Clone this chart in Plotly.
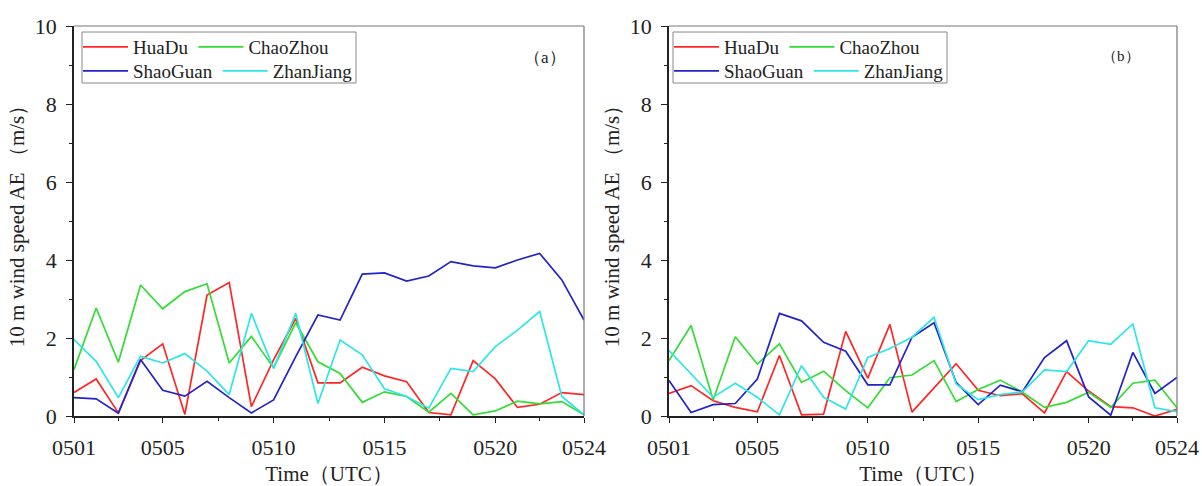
import plotly.graph_objects as go

dates = ["0501", "0502", "0503", "0504", "0505", "0506", "0507", "0508", "0509", "0510",
         "0511", "0512", "0513", "0514", "0515", "0516", "0517", "0518", "0519", "0520",
         "0521", "0522", "0523", "0524"]
tick_labels = ["0501", "0505", "0510", "0515", "0520", "0524"]
stations = ["HuaDu", "ChaoZhou", "ShaoGuan", "ZhanJiang"]

# Panel (a)
a_huadu = [0.60, 0.95, 0.08, 1.42, 1.85, 0.04, 3.10, 3.42, 0.24, 1.44, 2.50, 0.85,
           0.85, 1.25, 1.03, 0.88, 0.09, 0.03, 1.42, 0.95, 0.22, 0.30, 0.60, 0.55]
a_chaozhou = [1.19, 2.77, 1.38, 3.36, 2.75, 3.19, 3.39, 1.36, 2.04, 1.24, 2.39, 1.39,
              1.09, 0.35, 0.62, 0.50, 0.10, 0.58, 0.03, 0.13, 0.38, 0.31, 0.37, 0.03]
a_shaoguan = [0.47, 0.44, 0.07, 1.45, 0.66, 0.51, 0.89, 0.47, 0.08, 0.41, 1.52, 2.59,
              2.46, 3.64, 3.67, 3.46, 3.59, 3.96, 3.85, 3.80, 4.00, 4.17, 3.49, 2.46]
a_zhanjiang = [1.96, 1.40, 0.47, 1.53, 1.36, 1.60, 1.15, 0.55, 2.63, 1.22, 2.63, 0.32,
               1.95, 1.57, 0.70, 0.50, 0.20, 1.22, 1.14, 1.78, 2.20, 2.68, 0.50, 0.03]

# Panel (b)
b_huadu = [0.58, 0.78, 0.39, 0.22, 0.11, 1.55, 0.03, 0.05, 2.17, 0.97, 2.35, 0.10,
           0.72, 1.34, 0.66, 0.52, 0.57, 0.08, 1.14, 0.64, 0.24, 0.21, 0.00, 0.17]
b_chaozhou = [1.42, 2.32, 0.41, 2.03, 1.33, 1.85, 0.86, 1.15, 0.65, 0.21, 0.98, 1.05,
              1.42, 0.37, 0.68, 0.92, 0.61, 0.22, 0.35, 0.61, 0.22, 0.84, 0.92, 0.21]
b_shaoguan = [0.91, 0.09, 0.29, 0.32, 0.95, 2.63, 2.44, 1.89, 1.66, 0.80, 0.80, 2.02,
              2.39, 0.86, 0.29, 0.79, 0.62, 1.50, 1.93, 0.49, 0.02, 1.63, 0.58, 0.99]
b_zhanjiang = [1.68, 1.08, 0.48, 0.84, 0.48, 0.03, 1.29, 0.48, 0.18, 1.50, 1.73, 2.02,
               2.53, 0.82, 0.42, 0.55, 0.62, 1.18, 1.14, 1.93, 1.84, 2.36, 0.21, 0.11]

colors = {"HuaDu": "#FF2626", "ChaoZhou": "#33DD33", "ShaoGuan": "#2323C8", "ZhanJiang": "#2EE6E6"}

x_vals = [int(d[2:]) for d in dates]
tick_vals = [int(t[2:]) for t in tick_labels]
minor_vals = [(tick_vals[i] + tick_vals[i + 1]) / 2 for i in range(len(tick_vals) - 1)]

panels = [
    ("x", "y", {"HuaDu": a_huadu, "ChaoZhou": a_chaozhou, "ShaoGuan": a_shaoguan, "ZhanJiang": a_zhanjiang},
     {"HuaDu": "legend", "ChaoZhou": "legend", "ShaoGuan": "legend2", "ZhanJiang": "legend2"}),
    ("x2", "y2", {"HuaDu": b_huadu, "ChaoZhou": b_chaozhou, "ShaoGuan": b_shaoguan, "ZhanJiang": b_zhanjiang},
     {"HuaDu": "legend3", "ChaoZhou": "legend3", "ShaoGuan": "legend4", "ZhanJiang": "legend4"}),
]

fig = go.Figure()
for xa, ya, series, legs in panels:
    for s in stations:
        fig.add_trace(go.Scatter(
            x=x_vals, y=series[s], mode="lines", name=s,
            line=dict(color=colors[s], width=1.7),
            xaxis=xa, yaxis=ya, legend=legs[s], showlegend=True,
        ))

W, H = 1202, 486
FONT = "Liberation Serif, Times New Roman, serif"

def px_x(p):
    return p / W

def px_y(p):
    return 1 - p / H

xdom_a = [px_x(74), px_x(584)]
xdom_b = [px_x(669), px_x(1177)]
ydom = [px_y(416), px_y(26)]

axis_common = dict(
    showline=True, linecolor="#222", linewidth=1.5, mirror=False, automargin=False,
    ticks="outside", tickcolor="#222", tickwidth=1.2, showgrid=False, zeroline=False,
    tickfont=dict(family=FONT, size=22, color="#222"),
)

xaxis_cfg = dict(
    axis_common, range=[1, 24], tickmode="array", tickvals=tick_vals, ticktext=tick_labels,
    ticklen=5, ticklabelstandoff=6,
    minor=dict(tickmode="array", tickvals=minor_vals, ticklen=3, ticks="outside", tickcolor="#222"),
    title=dict(text="Time（UTC）", font=dict(family=FONT, size=21, color="#222"), standoff=8),
)
yaxis_cfg = dict(
    axis_common, range=[0, 10], tickmode="linear", tick0=0, dtick=2, ticklen=6, ticklabelstandoff=5,
    minor=dict(dtick=1, ticklen=3, ticks="outside", tickcolor="#222"),
    title=dict(text="10 m wind speed AE （m/s）", font=dict(family=FONT, size=21, color="#222"), standoff=4),
)

legend_common = dict(
    orientation="h", xanchor="left", yanchor="middle", bgcolor="rgba(0,0,0,0)",
    borderwidth=0, font=dict(family=FONT, size=19, color="#222"), itemwidth=45,
    tracegroupgap=0, itemclick=False, itemdoubleclick=False,
)

fig.update_layout(
    template="none",
    width=W, height=H, margin=dict(l=0, r=0, t=0, b=0, autoexpand=False),
    paper_bgcolor="white", plot_bgcolor="white",
    xaxis=dict(xaxis_cfg, domain=xdom_a, anchor="y"),
    yaxis=dict(yaxis_cfg, domain=ydom, anchor="x"),
    xaxis2=dict(xaxis_cfg, domain=xdom_b, anchor="y2"),
    yaxis2=dict(yaxis_cfg, domain=ydom, anchor="x2"),
    legend=dict(legend_common, x=px_x(78), y=px_y(47)),
    legend2=dict(legend_common, x=px_x(78), y=px_y(71)),
    legend3=dict(legend_common, x=px_x(669), y=px_y(47)),
    legend4=dict(legend_common, x=px_x(669), y=px_y(71)),
    showlegend=True,
)

# Frame: top and right borders in gray, legend boxes
for xr, yr in [("x domain", "y domain"), ("x2 domain", "y2 domain")]:
    fig.add_shape(type="line", xref=xr, yref=yr, x0=0, x1=1, y0=1, y1=1, line=dict(color="#777", width=1.2))
    fig.add_shape(type="line", xref=xr, yref=yr, x0=1, x1=1, y0=0, y1=1, line=dict(color="#777", width=1.2))

fig.add_shape(type="rect", xref="paper", yref="paper", x0=px_x(82), x1=px_x(356), y0=px_y(83), y1=px_y(32),
              line=dict(color="#888", width=1))
fig.add_shape(type="rect", xref="paper", yref="paper", x0=px_x(673), x1=px_x(947), y0=px_y(83), y1=px_y(32),
              line=dict(color="#888", width=1))

fig.add_annotation(text="（a）", xref="paper", yref="paper", x=px_x(545), y=px_y(46),
                   showarrow=False, font=dict(family=FONT, size=17, color="#222"))
fig.add_annotation(text="（b）", xref="paper", yref="paper", x=px_x(1142), y=px_y(46),
                   showarrow=False, font=dict(family=FONT, size=15, color="#222"))

fig.write_html("out.html")
